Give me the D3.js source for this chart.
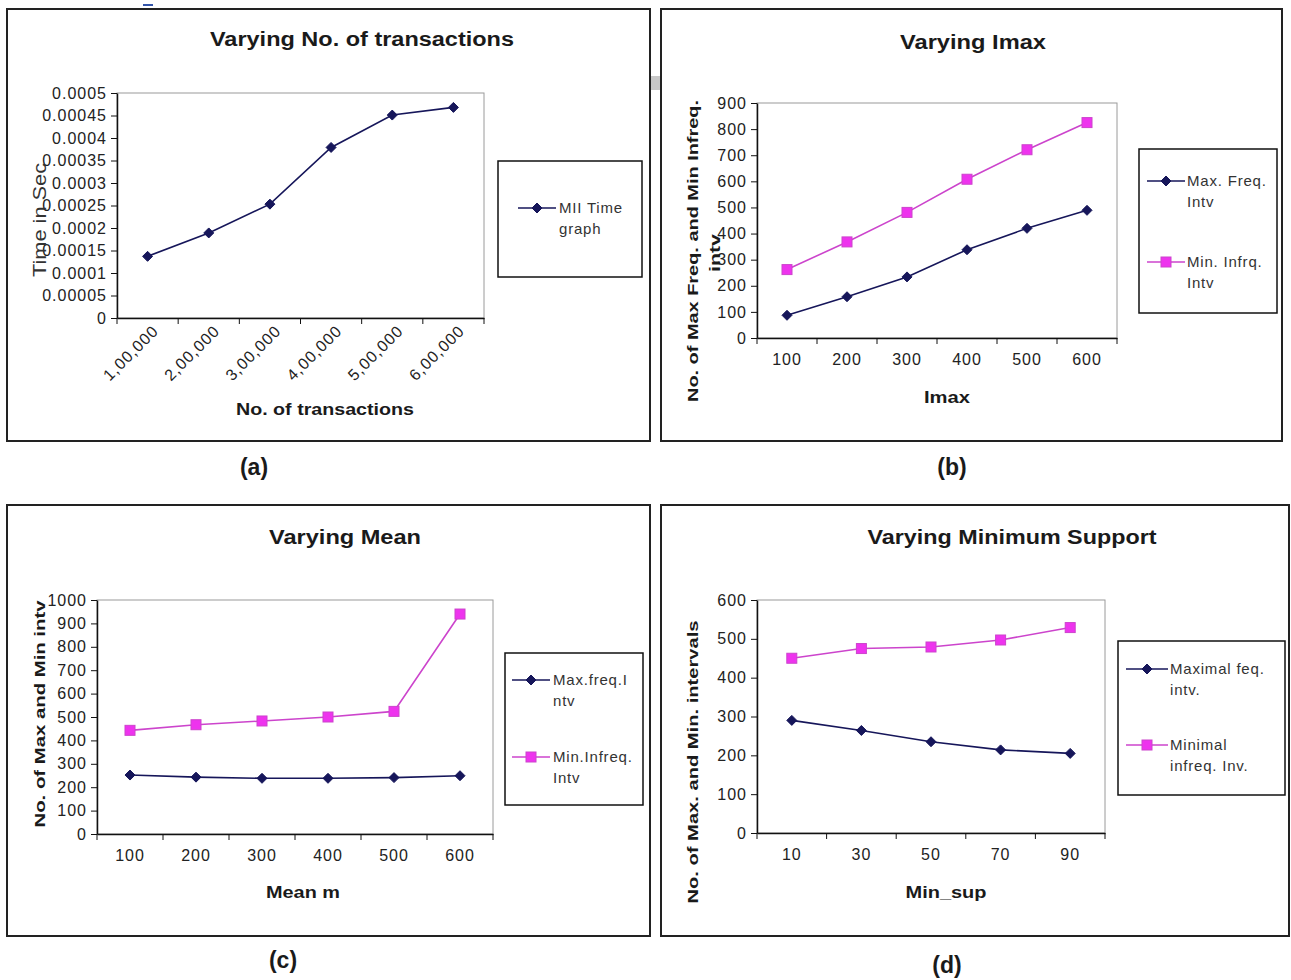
<!DOCTYPE html>
<html>
<head>
<meta charset="utf-8">
<script src="https://cdn.jsdelivr.net/npm/d3@7"></script>
<style>
  body { margin: 0; background: #fff; }
  text { font-family: "Liberation Sans", Arial, sans-serif; }
</style>
</head>
<body>
<script>
// ---- data ----
const txnLabels = ["1,00,000", "2,00,000", "3,00,000", "4,00,000", "5,00,000", "6,00,000"];
const txnTime = [0.000137, 0.000189, 0.000253, 0.000379, 0.000451, 0.000468];
const timeTicks = [0, 0.00005, 0.0001, 0.00015, 0.0002, 0.00025, 0.0003, 0.00035, 0.0004, 0.00045, 0.0005];

const imaxLabels = ["100", "200", "300", "400", "500", "600"];
const imaxMaxFreq = [87, 158, 234, 338, 420, 489];
const imaxMinInfreq = [262, 368, 481, 608, 721, 825];
const imaxTicks = [0, 100, 200, 300, 400, 500, 600, 700, 800, 900];

const meanLabels = ["100", "200", "300", "400", "500", "600"];
const meanMaxFreq = [252, 243, 238, 238, 241, 249];
const meanMinInfreq = [443, 467, 483, 500, 524, 940];
const meanTicks = [0, 100, 200, 300, 400, 500, 600, 700, 800, 900, 1000];

const supLabels = ["10", "30", "50", "70", "90"];
const supMaxFreq = [290, 264, 235, 214, 205];
const supMinInfreq = [450, 475, 479, 497, 529];
const supTicks = [0, 100, 200, 300, 400, 500, 600];

const navy = "#16165a";
const pink = "#cc44cc";
const pinkFill = "#ee33ee";

const svg = d3.select("body").append("svg")
    .attr("width", 1291).attr("height", 980);

// small artefacts seen in the scan
svg.append("rect").attr("x", 143).attr("y", 4).attr("width", 10).attr("height", 2).attr("fill", "#3355aa");
svg.append("rect").attr("x", 650).attr("y", 76).attr("width", 11).attr("height", 14).attr("fill", "#c8c8c8");

function diamond(sel, cx, cy, r) {
    sel.append("path")
        .attr("d", `M${cx},${cy - r}L${cx + r},${cy}L${cx},${cy + r}L${cx - r},${cy}Z`)
        .attr("fill", navy).attr("stroke", navy);
}
function square(sel, cx, cy, s) {
    sel.append("rect")
        .attr("x", cx - s / 2).attr("y", cy - s / 2).attr("width", s).attr("height", s)
        .attr("fill", pinkFill).attr("stroke", pink);
}

function drawPanel(cfg) {
    const g = svg.append("g");
    const p = cfg.plot;

    // outer frame
    g.append("rect")
        .attr("x", cfg.frame[0]).attr("y", cfg.frame[1])
        .attr("width", cfg.frame[2] - cfg.frame[0]).attr("height", cfg.frame[3] - cfg.frame[1])
        .attr("fill", "none").attr("stroke", "#222").attr("stroke-width", 2);

    const x = d3.scaleBand().domain(cfg.labels).range([p.left, p.right]);
    const y = d3.scaleLinear().domain([0, cfg.yTicks[cfg.yTicks.length - 1]]).range([p.bottom, p.top]);

    // plot area border
    g.append("rect")
        .attr("x", p.left).attr("y", p.top)
        .attr("width", p.right - p.left).attr("height", p.bottom - p.top)
        .attr("fill", "#fff").attr("stroke", "#9a9a9a").attr("stroke-width", 1);

    // y axis
    const ya = g.append("g")
        .attr("transform", `translate(${p.left},0)`)
        .call(d3.axisLeft(y).tickValues(cfg.yTicks).tickFormat(cfg.yFormat || (d => d)).tickSize(6).tickSizeOuter(0).tickPadding(4));
    ya.select(".domain").attr("stroke", "#111").attr("stroke-width", 1.5);
    ya.selectAll(".tick line").attr("stroke", "#111");
    ya.selectAll(".tick text").attr("font-size", 16).attr("letter-spacing", 1).attr("fill", "#222")
        .attr("font-family", "Liberation Sans, Arial, sans-serif");

    // x axis: labels at band centres, tick marks at band edges
    const xa = g.append("g")
        .attr("transform", `translate(0,${p.bottom})`)
        .call(d3.axisBottom(x).tickSize(0).tickSizeOuter(0).tickPadding(cfg.xPad || 16));
    xa.select(".domain").attr("stroke", "#111").attr("stroke-width", 1.5);
    xa.selectAll(".tick text").attr("font-size", 16).attr("letter-spacing", 1).attr("fill", "#222")
        .attr("font-family", "Liberation Sans, Arial, sans-serif");
    if (cfg.rotate) {
        xa.selectAll(".tick text")
            .attr("text-anchor", "end")
            .attr("dy", "0.35em")
            .attr("transform", "translate(8,10) rotate(-45)")
            .attr("y", 0).attr("x", 0);
    }
    const edges = cfg.labels.map(d => x(d)).concat([x.range()[1]]);
    g.selectAll(null).data(edges).join("line")
        .attr("x1", d => d).attr("x2", d => d)
        .attr("y1", p.bottom).attr("y2", p.bottom + 6)
        .attr("stroke", "#111");

    // series
    cfg.series.forEach(s => {
        const line = d3.line()
            .x((d, i) => x(cfg.labels[i]) + x.bandwidth() / 2)
            .y(d => y(d));
        g.append("path").datum(s.values)
            .attr("d", line)
            .attr("fill", "none")
            .attr("stroke", s.kind === "diamond" ? navy : pink)
            .attr("stroke-width", 1.6);
        s.values.forEach((v, i) => {
            const cx = x(cfg.labels[i]) + x.bandwidth() / 2;
            if (s.kind === "diamond") diamond(g, cx, y(v), 5);
            else square(g, cx, y(v), 10);
        });
    });

    // title
    g.append("text")
        .attr("x", cfg.title.x).attr("y", cfg.title.y)
        .attr("text-anchor", "middle")
        .attr("font-size", 20).attr("font-weight", "bold").attr("fill", "#1a1a1a")
        .attr("textLength", cfg.title.len).attr("lengthAdjust", "spacingAndGlyphs")
        .text(cfg.title.text);

    // x title
    g.append("text")
        .attr("x", cfg.xTitle.x).attr("y", cfg.xTitle.y)
        .attr("text-anchor", "middle")
        .attr("font-size", 17).attr("font-weight", "bold").attr("fill", "#1a1a1a")
        .attr("textLength", cfg.xTitle.len).attr("lengthAdjust", "spacingAndGlyphs")
        .text(cfg.xTitle.text);

    // y title (possibly several lines)
    cfg.yTitle.forEach(t => {
        g.append("text")
            .attr("transform", `translate(${t.x},${t.y}) rotate(-90)`)
            .attr("text-anchor", "middle")
            .attr("dy", "0.35em")
            .attr("font-size", t.size || 15)
            .attr("font-weight", t.bold === false ? "normal" : "bold")
            .attr("fill", t.color || "#1a1a1a")
            .attr("textLength", t.len).attr("lengthAdjust", "spacingAndGlyphs")
            .text(t.text);
    });

    // legend
    const L = cfg.legend;
    g.append("rect")
        .attr("x", L.box[0]).attr("y", L.box[1])
        .attr("width", L.box[2] - L.box[0]).attr("height", L.box[3] - L.box[1])
        .attr("fill", "#fff").attr("stroke", "#111").attr("stroke-width", 1.5);
    L.items.forEach((it, k) => {
        const s = cfg.series[k];
        g.append("line")
            .attr("x1", L.lineX[0]).attr("x2", L.lineX[1])
            .attr("y1", it.y).attr("y2", it.y)
            .attr("stroke", s.kind === "diamond" ? navy : pink).attr("stroke-width", 1.6);
        const mx = (L.lineX[0] + L.lineX[1]) / 2;
        if (s.kind === "diamond") diamond(g, mx, it.y, 5);
        else square(g, mx, it.y, 10);
        it.lines.forEach((txt, j) => {
            g.append("text")
                .attr("x", L.textX).attr("y", it.y + 5 + j * 21)
                .attr("font-size", 15).attr("letter-spacing", 0.8).attr("fill", "#333")
                .text(txt);
        });
    });

    // caption
    g.append("text")
        .attr("x", cfg.caption.x).attr("y", cfg.caption.y)
        .attr("text-anchor", "middle")
        .attr("font-size", 23).attr("font-weight", "bold").attr("fill", "#1a1a1a")
        .attr("font-family", "Open Sans, sans-serif")
        .text(cfg.caption.text);
}

drawPanel({
    frame: [7, 9, 650, 441],
    plot: { left: 117, right: 484, top: 93, bottom: 318 },
    labels: txnLabels,
    yTicks: timeTicks,
    yFormat: d => String(d),
    rotate: true,
    series: [{ kind: "diamond", values: txnTime }],
    title: { text: "Varying No. of transactions", x: 362, y: 46, len: 304 },
    xTitle: { text: "No. of transactions", x: 325, y: 415, len: 178 },
    yTitle: [{ text: "Time in Sec", x: 40, y: 220, size: 18, bold: false, color: "#333", len: 114 }],
    legend: {
        box: [498, 161, 642, 277], lineX: [518, 556], textX: 559,
        items: [{ y: 208, lines: ["MII Time", "graph"] }]
    },
    caption: { text: "(a)", x: 254, y: 475 }
});

drawPanel({
    frame: [661, 9, 1282, 441],
    plot: { left: 757, right: 1117, top: 103, bottom: 338 },
    labels: imaxLabels,
    yTicks: imaxTicks,
    series: [{ kind: "diamond", values: imaxMaxFreq }, { kind: "square", values: imaxMinInfreq }],
    title: { text: "Varying Imax", x: 973, y: 49, len: 146 },
    xTitle: { text: "Imax", x: 947, y: 403, len: 46 },
    yTitle: [
        { text: "No. of Max Freq. and Min Infreq.", x: 693, y: 251, len: 302 },
        { text: "intv", x: 715, y: 253, len: 38 }
    ],
    legend: {
        box: [1139, 149, 1277, 313], lineX: [1147, 1185], textX: 1187,
        items: [{ y: 181, lines: ["Max. Freq.", "Intv"] }, { y: 262, lines: ["Min. Infrq.", "Intv"] }]
    },
    caption: { text: "(b)", x: 952, y: 475 }
});

drawPanel({
    frame: [7, 505, 650, 936],
    plot: { left: 97, right: 493, top: 600, bottom: 834 },
    labels: meanLabels,
    yTicks: meanTicks,
    series: [{ kind: "diamond", values: meanMaxFreq }, { kind: "square", values: meanMinInfreq }],
    title: { text: "Varying Mean", x: 345, y: 544, len: 152 },
    xTitle: { text: "Mean m", x: 303, y: 898, len: 74 },
    yTitle: [{ text: "No. of Max and Min intv", x: 40, y: 714, len: 227 }],
    legend: {
        box: [505, 653, 643, 805], lineX: [512, 550], textX: 553,
        items: [{ y: 680, lines: ["Max.freq.I", "ntv"] }, { y: 757, lines: ["Min.Infreq.", "Intv"] }]
    },
    caption: { text: "(c)", x: 283, y: 968 }
});

drawPanel({
    frame: [661, 505, 1289, 936],
    plot: { left: 757, right: 1105, top: 600, bottom: 833 },
    labels: supLabels,
    yTicks: supTicks,
    series: [{ kind: "diamond", values: supMaxFreq }, { kind: "square", values: supMinInfreq }],
    title: { text: "Varying Minimum Support", x: 1012, y: 544, len: 289 },
    xTitle: { text: "Min_sup", x: 946, y: 898, len: 81 },
    yTitle: [{ text: "No. of Max. and Min. intervals", x: 693, y: 762, len: 283 }],
    legend: {
        box: [1118, 641, 1285, 795], lineX: [1126, 1168], textX: 1170,
        items: [{ y: 669, lines: ["Maximal feq.", "intv."] }, { y: 745, lines: ["Minimal", "infreq. Inv."] }]
    },
    caption: { text: "(d)", x: 947, y: 973 }
});
</script>
</body>
</html>
